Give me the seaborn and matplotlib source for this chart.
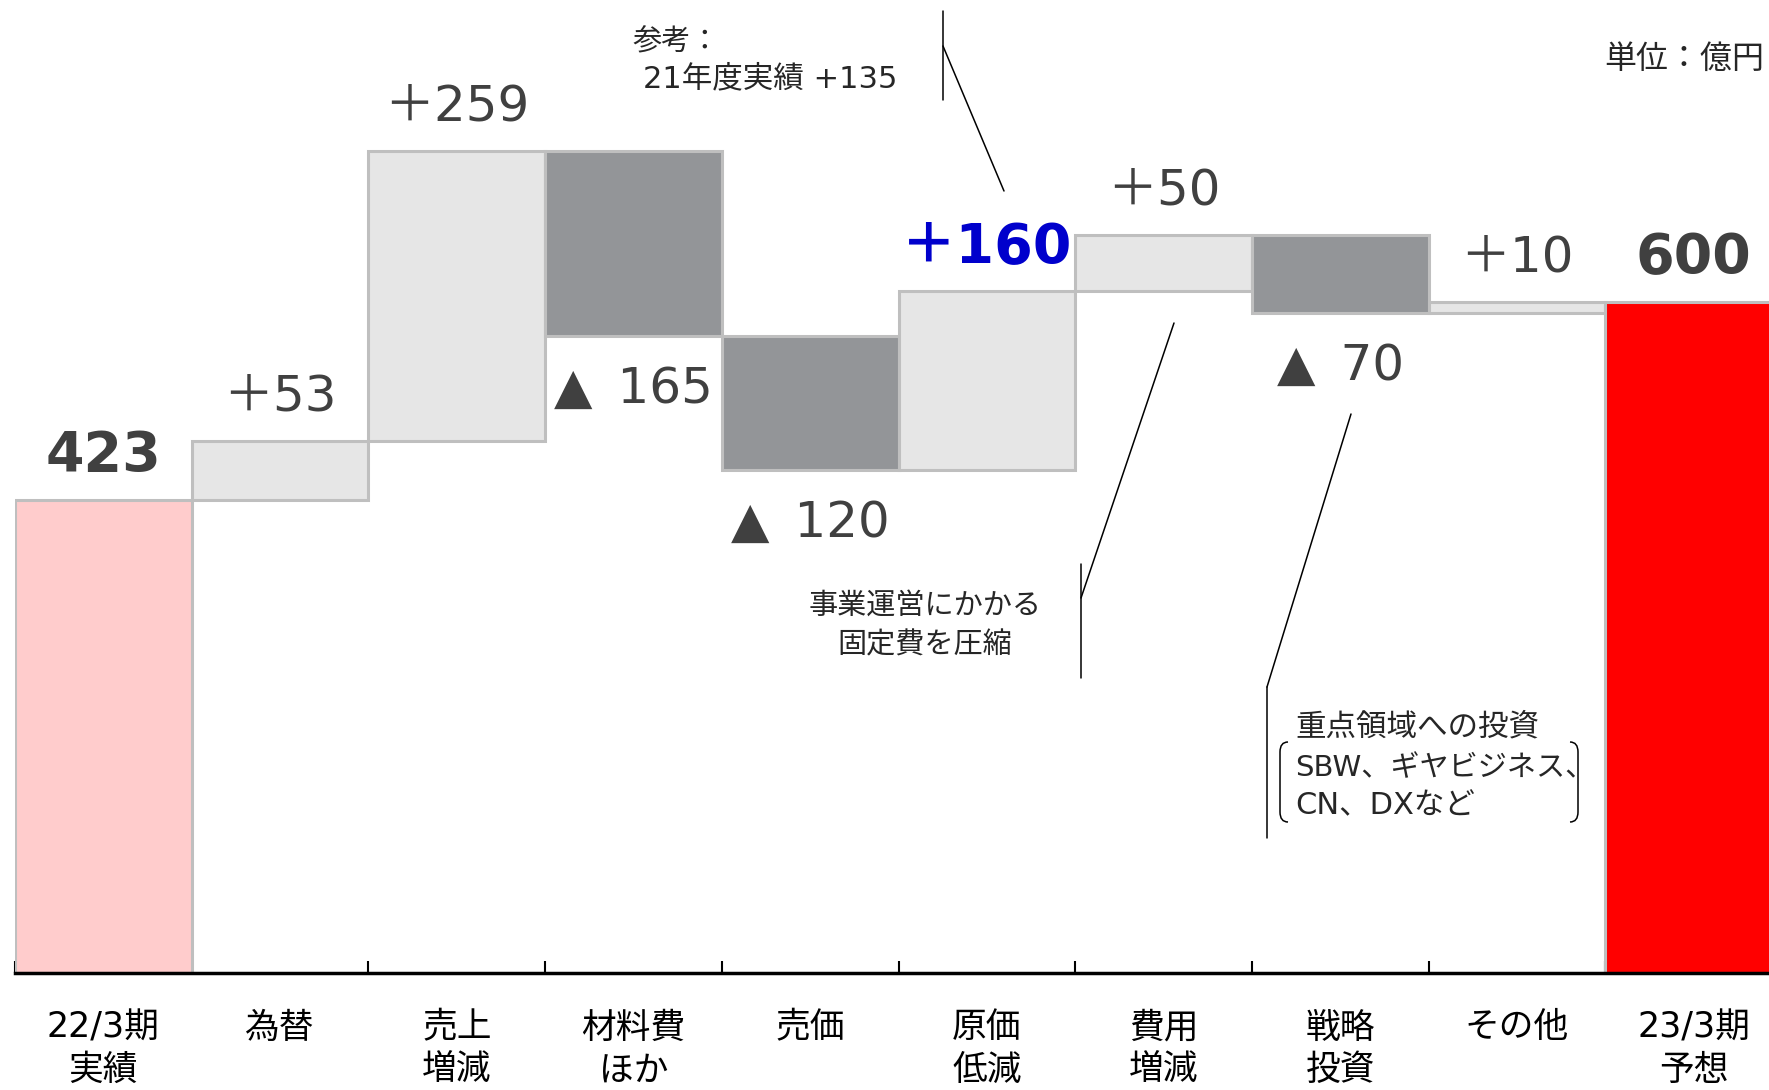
import matplotlib.pyplot as plt
import pandas as pd
import seaborn as sns
from matplotlib.path import Path
from matplotlib.patches import PathPatch
from matplotlib.lines import Line2D

# Data (unit: 億円)
categories = ['22/3期\n実績', '為替', '売上\n増減', '材料費\nほか', '売価',
              '原価\n低減', '費用\n増減', '戦略\n投資', 'その他', '23/3期\n予想']
start_value = 423
steps = [53, 259, -165, -120, 160, 50, -70, 10]
end_value = 600
value_labels = ['423', '＋53', '＋259', '▲\u2002165', '▲\u2002120', '＋160', '＋50',
                '▲\u200270', '＋10', '600']

# Waterfall geometry from the values
bases, heights = [0], [start_value]
level = start_value
for s in steps:
    bases.append(level if s > 0 else level + s)
    heights.append(abs(s))
    level += s
bases.append(0)
heights.append(end_value)

colors = ['#FFCCCC'] + ['#E6E6E6' if s > 0 else '#939598' for s in steps] + ['#FF0000']

df = pd.DataFrame({'label': categories, 'base': bases, 'height': heights})

sns.set_style('white')
plt.rcParams['font.family'] = ['DejaVu Sans', 'Noto Sans CJK JP']

W, H = 1769, 1090
fig = plt.figure(figsize=(W / 100, H / 100), dpi=100)
# the last bar runs off the right edge of the picture
ax = fig.add_axes([15 / W, 117 / H, 1767 / W, 973 / H])


def fpx(x, y):
    # pixel position (from top-left) -> figure fraction
    return x / W, 1 - y / H


sns.barplot(data=df, x='label', y='height', order=categories, bottom=df['base'].values,
            width=1.0, color='#E6E6E6', saturation=1, facecolor=colors,
            edgecolor='#BFBFBF', linewidth=2.2, ax=ax)

ax.set_xlim(-0.5, 9.5)
ax.set_ylim(0, 870)
ax.set_xlabel('')
ax.set_ylabel('')
ax.set_yticks([])
sns.despine(ax=ax, left=True)
ax.spines['bottom'].set_linewidth(2.5)
ax.spines['bottom'].set_color('black')

ax.set_xticks(range(len(categories)))
ax.set_xticklabels(categories, fontsize=25, color='black', linespacing=1.32)
ax.set_xticks([i - 0.5 for i in range(len(categories))], minor=True)
ax.tick_params(axis='x', which='major', length=0, pad=27)
ax.tick_params(axis='x', which='minor', direction='in', length=9, width=1.5, color='black', bottom=True)

# value labels
for i, (b, h, lab) in enumerate(zip(bases, heights, value_labels)):
    if lab.startswith('▲'):
        y, off = b, -53
    else:
        y, off = b + h, 44
    kw = dict(fontsize=36, color='#404040')
    if i in (0, len(categories) - 1):
        kw = dict(fontsize=40, color='#404040', fontweight='bold')
    elif i == 5:
        kw = dict(fontsize=40, color='#0000CC', fontweight='bold')
    ax.annotate(lab, xy=(i, y), xytext=(0, off), textcoords='offset pixels',
                ha='center', va='center', **kw)

# callouts
fig.text(*fpx(632, 42), '参考：', ha='left', va='center', fontsize=21)
fig.text(*fpx(643, 79), '21年度実績 +135', ha='left', va='center', fontsize=22)
fig.text(*fpx(925, 606), '事業運営にかかる', ha='center', va='center', fontsize=21)
fig.text(*fpx(925, 645), '固定費を圧縮', ha='center', va='center', fontsize=21)
fig.text(*fpx(1295, 727), '重点領域への投資', ha='left', va='center', fontsize=22)
fig.text(*fpx(1295, 768), 'SBW、ギヤビジネス、', ha='left', va='center', fontsize=21)
fig.text(*fpx(1295, 806), 'CN、DXなど', ha='left', va='center', fontsize=22)
fig.text(*fpx(1764, 59), '単位：億円', ha='right', va='center', fontsize=23)

leaders = [
    [(943, 11), (943, 100)], [(943, 46), (1004, 191)],
    [(1081, 564), (1081, 678)], [(1081, 598), (1174, 323)],
    [(1267, 687), (1267, 838)], [(1267, 687), (1351, 414)],
]
for seg in leaders:
    (x0, y0), (x1, y1) = fpx(*seg[0]), fpx(*seg[1])
    fig.add_artist(Line2D([x0, x1], [y0, y1], transform=fig.transFigure, color='black', lw=1.1))

codes = [Path.MOVETO, Path.CURVE3, Path.CURVE3, Path.LINETO, Path.CURVE3, Path.CURVE3]
for xe, d in ((1280, 8), (1578, -8)):
    pts = [(xe + d, 742), (xe, 742), (xe, 752), (xe, 812), (xe, 822), (xe + d, 822)]
    fig.add_artist(PathPatch(Path([fpx(*p) for p in pts], codes), transform=fig.transFigure,
                             facecolor='none', edgecolor='black', lw=1.1))

fig.savefig('out.png', dpi=100)
